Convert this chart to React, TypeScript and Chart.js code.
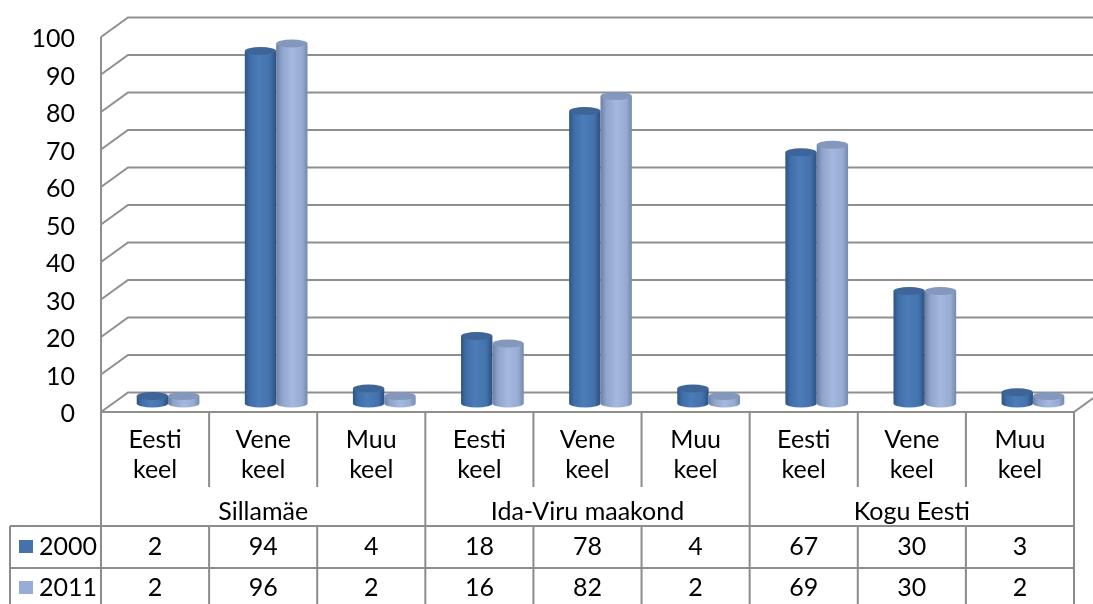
import React, { useEffect, useRef } from "react";
import { Chart, registerables } from "chart.js";

Chart.register(...registerables);

const groups = ["Sillamäe", "Ida-Viru maakond", "Kogu Eesti"];
const languages: string[][] = [
  ["Eesti", "keel"],
  ["Vene", "keel"],
  ["Muu", "keel"],
];
const seriesNames = ["2000", "2011"];
const values2000 = [2, 94, 4, 18, 78, 4, 67, 30, 3];
const values2011 = [2, 96, 2, 16, 82, 2, 69, 30, 2];
const yTicks = [0, 10, 20, 30, 40, 50, 60, 70, 80, 90, 100];

const FONT = "25px Lato, 'Open Sans', sans-serif";
const GRID = "#8f8f8f";
const TABLE = "#8c8c8c";
const BACK_DX = 27;
const BACK_DY = -19.5;
const BAR_DX = 13;
const BAR_DY = -8.5;
const swatch = ["#4672ab", "#97add5"];
const bodyStops: [number, string][][] = [
  [
    [0, "#2d5384"],
    [0.15, "#3e6da7"],
    [0.45, "#4c7cb9"],
    [0.8, "#4372ac"],
    [1, "#2c5080"],
  ],
  [
    [0, "#6c7fa3"],
    [0.18, "#8fa4cb"],
    [0.5, "#a5b9df"],
    [0.82, "#98acd3"],
    [1, "#7588ad"],
  ],
];
const topColors = ["#3e6597", "#8497bd"];

const categories: string[] = [];
groups.forEach((g) => languages.forEach((l) => categories.push(g + " " + l.join(" "))));

function drawCylinder(
  ctx: CanvasRenderingContext2D,
  cx: number,
  rx: number,
  topY: number,
  baseY: number,
  ry: number,
  stops: [number, string][],
  topColor: string
) {
  const grad = ctx.createLinearGradient(cx - rx, 0, cx + rx, 0);
  stops.forEach(([o, c]) => grad.addColorStop(o, c));
  ctx.beginPath();
  ctx.moveTo(cx - rx, topY);
  ctx.lineTo(cx - rx, baseY);
  ctx.ellipse(cx, baseY, rx, ry, 0, Math.PI, 0, true);
  ctx.lineTo(cx + rx, topY);
  ctx.closePath();
  ctx.fillStyle = grad;
  ctx.fill();
  ctx.beginPath();
  ctx.ellipse(cx, topY, rx, ry, 0, 0, Math.PI * 2);
  ctx.fillStyle = topColor;
  ctx.fill();
}

const scenePlugin = {
  id: "scene3d",
  beforeDatasetsDraw(chart: any) {
    const { ctx, chartArea, scales } = chart;
    const y = scales.y;
    const W = chart.width;
    ctx.save();
    ctx.strokeStyle = GRID;
    ctx.lineWidth = 2;
    yTicks.forEach((v) => {
      const fy = y.getPixelForValue(v);
      ctx.beginPath();
      ctx.moveTo(chartArea.left, fy);
      ctx.lineTo(chartArea.left + BACK_DX, fy + BACK_DY);
      ctx.lineTo(W + 5, fy + BACK_DY);
      ctx.stroke();
    });
    ctx.beginPath();
    ctx.moveTo(chartArea.left, y.getPixelForValue(100));
    ctx.lineTo(chartArea.left, chartArea.bottom);
    ctx.stroke();
    ctx.beginPath();
    ctx.moveTo(chartArea.left, chartArea.bottom);
    ctx.lineTo(chartArea.right, chartArea.bottom);
    ctx.lineTo(chartArea.right + BACK_DX, chartArea.bottom + BACK_DY);
    ctx.stroke();
    ctx.fillStyle = "#000";
    ctx.font = FONT;
    ctx.textAlign = "right";
    ctx.textBaseline = "middle";
    yTicks.forEach((v) => {
      ctx.fillText(String(v), 75, y.getPixelForValue(v) + 2);
    });
    ctx.restore();
  },
  afterDatasetsDraw(chart: any) {
    const { ctx, chartArea, scales } = chart;
    const x = scales.x;
    ctx.save();
    chart.data.datasets.forEach((_: any, di: number) => {
      const meta = chart.getDatasetMeta(di);
      meta.data.forEach((el: any) => {
        drawCylinder(
          ctx,
          el.x + BAR_DX,
          el.width / 2,
          el.y + BAR_DY,
          el.base + BAR_DY,
          4,
          bodyStops[di],
          topColors[di]
        );
      });
    });

    const b = chartArea.bottom;
    const n = categories.length;
    const colW = (chartArea.right - chartArea.left) / n;
    const edges: number[] = [];
    for (let i = 0; i <= n; i++) edges.push(chartArea.left + i * colW);
    const subEnd = b + 75;
    const tableTop = b + 114;
    const rowLine = b + 156;
    const bottom = chart.height + 5;
    const legendLeft = 10;

    ctx.strokeStyle = TABLE;
    ctx.lineWidth = 2;
    ctx.beginPath();
    edges.forEach((ex, i) => {
      const full = i % 3 === 0;
      ctx.moveTo(ex, b);
      ctx.lineTo(ex, full ? bottom : subEnd);
      if (!full) {
        ctx.moveTo(ex, tableTop);
        ctx.lineTo(ex, bottom);
      }
    });
    ctx.moveTo(legendLeft, tableTop);
    ctx.lineTo(legendLeft, bottom);
    ctx.moveTo(legendLeft, tableTop);
    ctx.lineTo(chartArea.right, tableTop);
    ctx.moveTo(legendLeft, rowLine);
    ctx.lineTo(chartArea.right, rowLine);
    ctx.stroke();

    ctx.fillStyle = "#000";
    ctx.font = FONT;
    ctx.textAlign = "center";
    ctx.textBaseline = "middle";
    for (let i = 0; i < n; i++) {
      const cx = x.getPixelForValue(i);
      const lab = languages[i % 3];
      ctx.fillText(lab[0], cx, b + 28);
      ctx.fillText(lab[1], cx, b + 58);
    }
    groups.forEach((g, gi) => {
      const cx = (edges[gi * 3] + edges[gi * 3 + 3]) / 2;
      ctx.fillText(g, cx, b + 100);
    });
    const rows = [values2000, values2011];
    const rowY = [b + 135, b + 176];
    rows.forEach((vals, ri) => {
      vals.forEach((v, i) => {
        ctx.fillText(String(v), x.getPixelForValue(i), rowY[ri]);
      });
      ctx.fillStyle = swatch[ri];
      ctx.fillRect(19, rowY[ri] - 7, 14, 13);
      ctx.fillStyle = "#000";
      ctx.textAlign = "left";
      ctx.fillText(seriesNames[ri], 39, rowY[ri]);
      ctx.textAlign = "center";
    });
    ctx.restore();
  },
};

export default function App() {
  const ref = useRef<HTMLCanvasElement | null>(null);
  useEffect(() => {
    document.body.style.margin = "0";
    const canvas = ref.current!;
    const chart = new Chart(canvas, {
      type: "bar",
      data: {
        labels: categories,
        datasets: [
          {
            label: seriesNames[0],
            data: values2000,
            backgroundColor: "rgba(0,0,0,0)",
            categoryPercentage: 0.58,
            barPercentage: 1,
          },
          {
            label: seriesNames[1],
            data: values2011,
            backgroundColor: "rgba(0,0,0,0)",
            categoryPercentage: 0.58,
            barPercentage: 1,
          },
        ],
      },
      options: {
        responsive: false,
        animation: false,
        devicePixelRatio: window.devicePixelRatio || 1,
        layout: { padding: { left: 101, right: 19, top: 37, bottom: 192 } },
        plugins: { legend: { display: false }, tooltip: { enabled: false } },
        scales: {
          x: { display: false },
          y: { display: false, min: 0, max: 100 },
        },
      },
      plugins: [scenePlugin],
    });
    return () => chart.destroy();
  }, []);
  return (
    <div style={{ position: "fixed", left: 0, top: 0, width: 1093, height: 604, background: "#fff" }}>
      <canvas ref={ref} width={1093} height={604} style={{ width: 1093, height: 604 }} />
    </div>
  );
}
